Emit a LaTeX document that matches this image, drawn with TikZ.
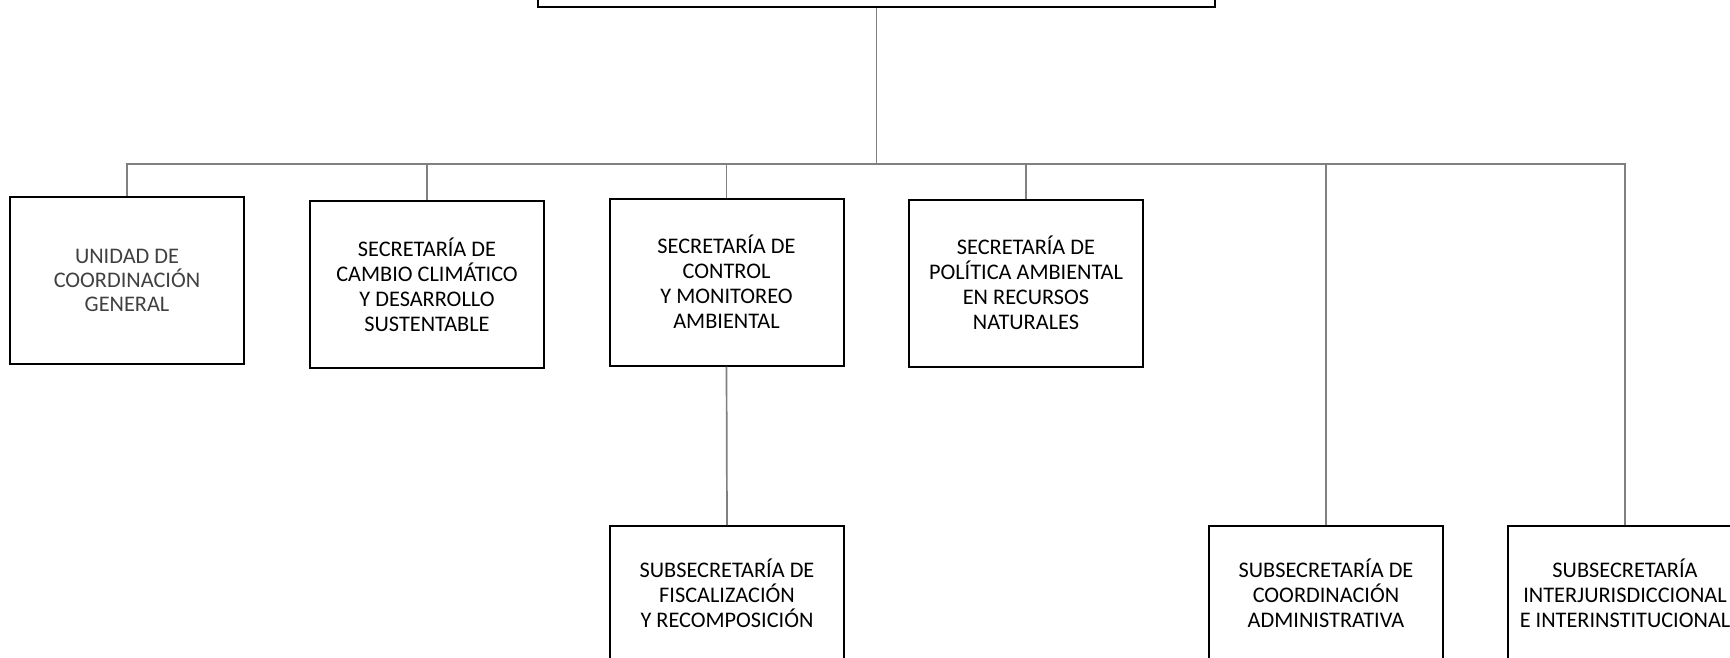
\documentclass[tikz,border=0pt]{standalone}
\usepackage{fontspec}
\setmainfont{Carlito}
\definecolor{linegray}{HTML}{808080}
\definecolor{txtgray}{HTML}{404040}
\tikzset{
  unit/.style={draw=black, line width=2pt, rectangle, inner sep=0pt, align=center,
    minimum width=234pt, minimum height=167pt, font=\fontsize{22.3}{25}\selectfont},
  lowunit/.style={unit, minimum height=134pt},
  conn/.style={draw=linegray, line width=1.7pt}
}
\begin{document}
\begin{tikzpicture}[x=1pt,y=-1pt]
\useasboundingbox (0,0) rectangle (1730,658);
\node[unit, minimum width=677pt, minimum height=67pt] (top) at (876.5,-26.5) {};
\node[unit, text=txtgray, font=\fontsize{22.3}{23.8}\selectfont] (b1) at (127,280.5) {UNIDAD DE\\COORDINACIÓN\\GENERAL};
\node[unit] (b2) at (427,284.5) {SECRETARÍA DE\\CAMBIO CLIMÁTICO\\Y DESARROLLO\\SUSTENTABLE};
\node[unit] (b3) at (726.5,282) {SECRETARÍA DE\\CONTROL\\Y MONITOREO\\AMBIENTAL};
\node[unit] (b4) at (1026,283) {SECRETARÍA DE\\POLÍTICA AMBIENTAL\\EN RECURSOS\\NATURALES};
\node[lowunit] (b5) at (727,593) {SUBSECRETARÍA DE\\FISCALIZACIÓN\\Y RECOMPOSICIÓN};
\node[lowunit] (b6) at (1326,593) {SUBSECRETARÍA DE\\COORDINACIÓN\\ADMINISTRATIVA};
\node[lowunit] (b7) at (1625,593) {SUBSECRETARÍA\\INTERJURISDICCIONAL\\E INTERINSTITUCIONAL};
\coordinate (bus) at (0,164);
\draw[conn] (top.south) -- (top.south |- bus);
\foreach \n in {b1,b2,b3,b4,b6,b7}{
  \draw[conn] (\n.north) |- (top.south |- bus);
}
\draw[conn] (b3.south) -- (b5.north);
\end{tikzpicture}
\end{document}
